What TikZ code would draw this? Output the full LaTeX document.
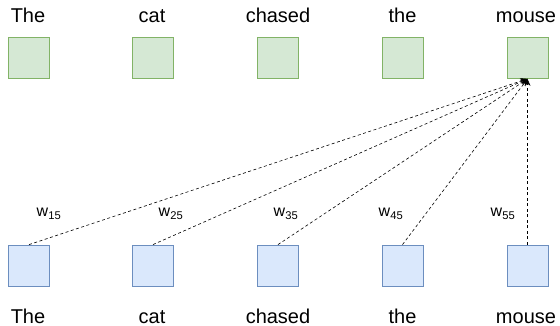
\documentclass[tikz,border=0pt]{standalone}
\usepackage{fontspec}
\setmainfont{Liberation Sans}
\usetikzlibrary{arrows.meta}
\definecolor{gfill}{HTML}{D5E8D4}
\definecolor{gdraw}{HTML}{82B366}
\definecolor{bfill}{HTML}{DAE8FC}
\definecolor{bdraw}{HTML}{6C8EBF}
\tikzset{
  outbox/.style={draw=gdraw, fill=gfill, line width=0.8pt, minimum size=41pt, inner sep=0pt},
  inbox/.style={draw=bdraw, fill=bfill, line width=0.8pt, minimum size=41pt, inner sep=0pt},
  word/.style={anchor=base, inner sep=0pt, font=\fontsize{20}{24}\selectfont},
  wlab/.style={anchor=base, inner sep=0pt, font=\fontsize{16}{19}\selectfont},
  attn/.style={draw=black, line width=0.6pt, dash pattern=on 3pt off 2.5pt, -{Stealth[length=7pt,width=6pt]}}
}
\begin{document}
\begin{tikzpicture}[x=1pt,y=-1pt]
\useasboundingbox (0,0) rectangle (560,326);
% top boxes
\node[outbox] (o1) at (29,58) {};
\node[outbox] (o2) at (153,58) {};
\node[outbox] (o3) at (278,58) {};
\node[outbox] (o4) at (402.5,58) {};
\node[outbox] (o5) at (527.5,58) {};
% bottom boxes
\node[inbox] (i1) at (29,265.5) {};
\node[inbox] (i2) at (153,265.5) {};
\node[inbox] (i3) at (278,265.5) {};
\node[inbox] (i4) at (402.5,265.5) {};
\node[inbox] (i5) at (527.5,265.5) {};
% top words
\node[word] (tw1) at (28,23) {The};
\node[word] (tw2) at (152,23) {cat};
\node[word] (tw3) at (278,23) {chased};
\node[word] (tw4) at (402.5,23) {the};
\node[word] (tw5) at (526,23) {mouse};
% bottom words
\node[word] (bw1) at (28,323) {The};
\node[word] (bw2) at (152,323) {cat};
\node[word] (bw3) at (278,323) {chased};
\node[word] (bw4) at (402.5,323) {the};
\node[word] (bw5) at (526,323) {mouse};
% connections
\draw[attn] (i1.north) -- (o5.south);
\draw[attn] (i2.north) -- (o5.south);
\draw[attn] (i3.north) -- (o5.south);
\draw[attn] (i4.north) -- (o5.south);
\draw[attn] (i5.north) -- (o5.south);
% weights
\node[wlab] (w1) at (49,217) {w\textsubscript{15}};
\node[wlab] (w2) at (171,217) {w\textsubscript{25}};
\node[wlab] (w3) at (286,217) {w\textsubscript{35}};
\node[wlab] (w4) at (391,217) {w\textsubscript{45}};
\node[wlab] (w5) at (503,217) {w\textsubscript{55}};
\end{tikzpicture}
\end{document}
